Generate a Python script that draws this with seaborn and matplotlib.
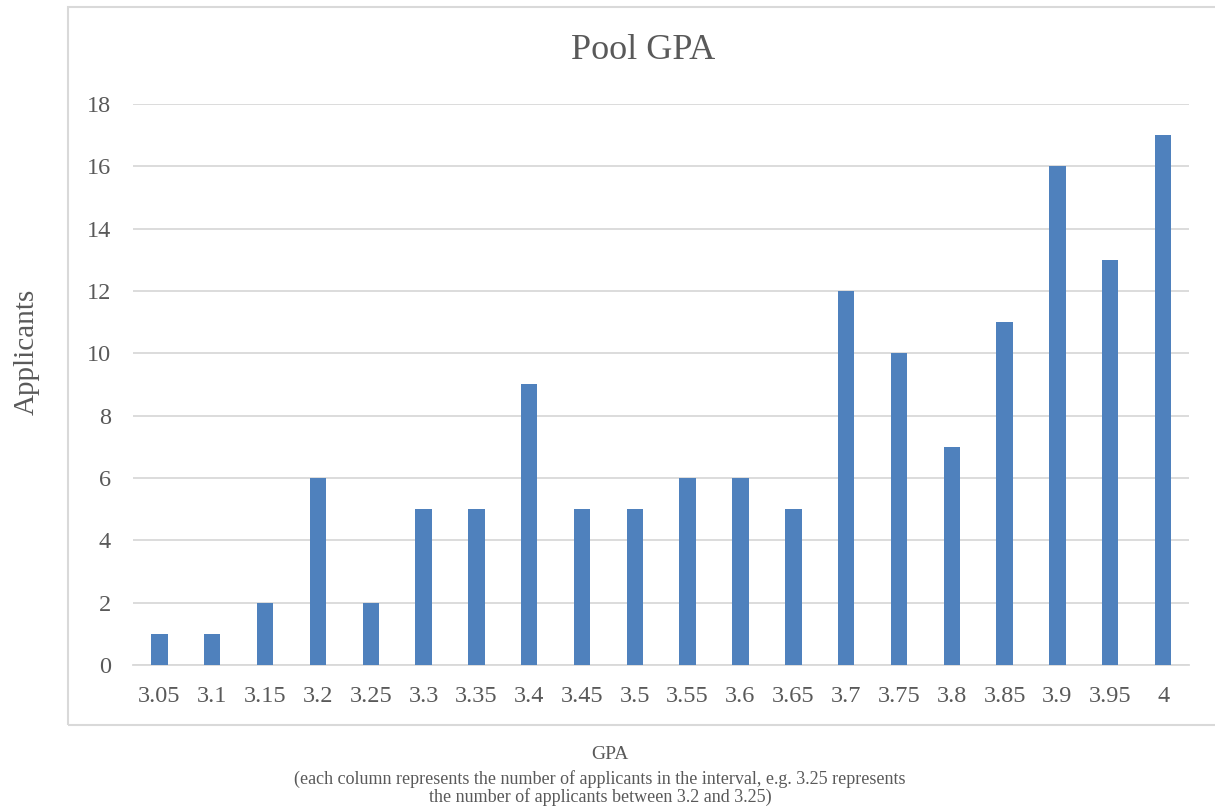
import matplotlib
matplotlib.use("Agg")
import matplotlib.pyplot as plt
import matplotlib.patches as patches
import pandas as pd
import seaborn as sns

gpa = ["3.05", "3.1", "3.15", "3.2", "3.25", "3.3", "3.35", "3.4", "3.45", "3.5",
       "3.55", "3.6", "3.65", "3.7", "3.75", "3.8", "3.85", "3.9", "3.95", "4"]
applicants = [1, 1, 2, 6, 2, 5, 5, 9, 5, 5, 6, 6, 5, 12, 10, 7, 11, 16, 13, 17]
y_ticks = [0, 2, 4, 6, 8, 10, 12, 14, 16, 18]

note = ("(each column represents the number of applicants in the interval, e.g. 3.25 represents\n"
        "the number of applicants between 3.2 and 3.25)")

sns.set_theme(style="white")
plt.rcParams['font.family'] = ['Liberation Serif', 'DejaVu Serif']

TEXT = "#595959"
GRID = "#D9D9D9"
df = pd.DataFrame({"GPA": gpa, "Applicants": applicants})

fig = plt.figure(figsize=(12.15, 8.11), dpi=100)
ax = fig.add_axes([0.1095, 0.180, 0.8695, 0.692])

sns.barplot(data=df, x="GPA", y="Applicants", color="#4F81BD", width=0.31,
            saturation=1, linewidth=0, ax=ax, zorder=3)

ax.set_xlim(-0.5, len(gpa) - 0.5)
ax.set_ylim(0, 18)
ax.set_yticks(y_ticks)
ax.yaxis.grid(True, color=GRID, linewidth=1.3, zorder=0)
ax.set_axisbelow(True)
for s in ["top", "right", "left"]:
    ax.spines[s].set_visible(False)
ax.spines["bottom"].set_color(GRID)
ax.spines["bottom"].set_linewidth(1.3)
ax.tick_params(axis="both", length=0, labelsize=17.5, labelcolor=TEXT)
ax.tick_params(axis="x", pad=15)
ax.tick_params(axis="y", pad=16)

ax.set_xlabel("")
ax.set_ylabel("Applicants", fontsize=21, color=TEXT)
ax.yaxis.set_label_coords(-0.088, 0.558)

fig.text(0.529, 0.938, "Pool GPA", ha="center", va="center", fontsize=26, color=TEXT)
fig.text(0.502, 0.070, "GPA", ha="center", va="center", fontsize=14, color=TEXT)
fig.text(0.494, 0.028, note, ha="center", va="center", fontsize=13, color=TEXT,
         linespacing=1.0)

border = patches.Rectangle((0.056, 0.106), 0.96, 0.885, transform=fig.transFigure,
                           fill=False, edgecolor=GRID, linewidth=1.5)
fig.patches.append(border)

fig.savefig("out.png", dpi=100)
